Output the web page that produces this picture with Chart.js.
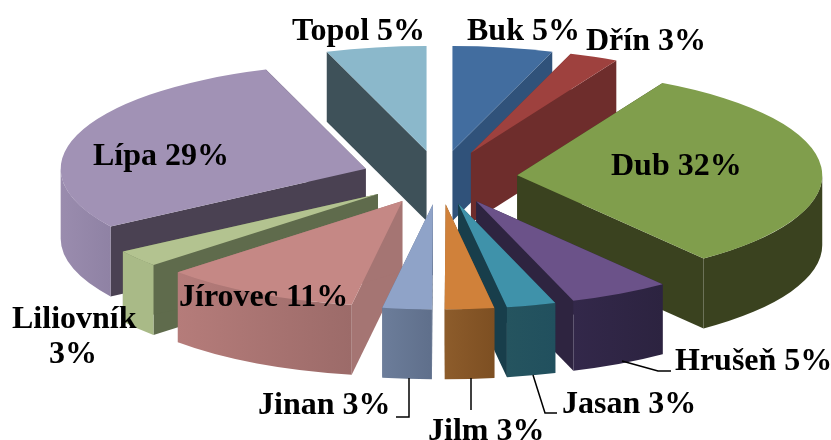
<!DOCTYPE html>
<html lang="cs">
<head>
<meta charset="utf-8">
<title>Dřeviny</title>
<script src="https://cdn.jsdelivr.net/npm/chart.js@4"></script>
<style>
  html, body { margin: 0; padding: 0; background: #fff; }
  canvas { display: block; }
</style>
</head>
<body>
<canvas id="graf" width="831" height="440"></canvas>
<script>
// data z obrázku (podíly odhadnuté z velikosti výsečí, popisky je zaokrouhlují)
const drevina = ["Buk", "Dřín", "Dub", "Hrušeň", "Jasan", "Jilm", "Jinan", "Jírovec", "Liliovník", "Lípa", "Topol"];
const procenta = [5.3, 2.6, 31.6, 5.3, 2.6, 2.6, 2.6, 10.5, 2.6, 28.9, 5.3];

// barvy: vrch, bok radiální, obvod (levý a pravý konec přechodu)
const barvaVrch = ["#426d9f", "#9e413e", "#809e4c", "#6b5289", "#3f92aa", "#d0813a", "#8fa3c8", "#c58885", "#b3c390", "#a192b5", "#8bb8cb"];
const barvaBok = ["#30527a", "#6e2d2c", "#3a421f", "#2e2440", "#183e4b", "#7d4f22", "#5f6f8b", "#a57573", "#5f6b4c", "#4a4152", "#3e5159"];
const barvaObvodL = ["#30527a", "#6e2d2c", "#3a421f", "#33284a", "#25545f", "#8d5c2b", "#6c7d9a", "#b57c7a", "#a9ba87", "#9a8cae", "#3e5159"];
const barvaObvodP = ["#30527a", "#6e2d2c", "#3a421f", "#2c2340", "#21505e", "#7d4f22", "#5f6f8b", "#9c6b69", "#a9ba87", "#8f82a4", "#3e5159"];

// popisky: x, y účaří
const popisky = [
  [467, 40], [586, 50], [611, 175], [675, 370], [562, 413], [428, 440],
  [258, 414], [179, 306], [12, 328], [93, 165], [292, 40]
];
// vodicí čáry k popiskům
const vodici = [
  [[622, 361], [658, 371], [671, 371]],
  [[533, 375], [545, 413], [557, 413]],
  [[471, 378], [471, 410]],
  [[409, 378], [409, 417], [396, 417]]
];

// parametry 3D pohledu (v pixelech obrázku)
const stred = { x: 439.5, y: 177.5 };
const poloosaX = 305, poloosaY = 105;
const vysun = 78, hloubka = 70;

const pie3d = {
  id: "pie3d",
  beforeDatasetsDraw(chart) {
    const ctx = chart.ctx;
    const oblouky = chart.getDatasetMeta(0).data;
    const poradi = oblouky.map((o, i) => i).sort((a, b) => {
      const sa = Math.sin((oblouky[a].startAngle + oblouky[a].endAngle) / 2);
      const sb = Math.sin((oblouky[b].startAngle + oblouky[b].endAngle) / 2);
      return sa - sb;
    });

    poradi.forEach((i) => {
      const o = oblouky[i];
      const R = o.outerRadius;
      const sx = poloosaX / R, sy = poloosaY / R;
      const h = hloubka / sy;
      const pul = (o.startAngle + o.endAngle) / 2;
      const v = vysun / sx;

      ctx.save();
      ctx.translate(stred.x, stred.y);
      ctx.scale(sx, sy);
      ctx.translate(Math.cos(pul) * v, Math.sin(pul) * v);
      ctx.translate(-o.x, -o.y);

      // radiální boky
      ctx.fillStyle = barvaBok[i];
      [o.startAngle, o.endAngle].forEach((a) => {
        const kx = o.x + Math.cos(a) * R, ky = o.y + Math.sin(a) * R;
        ctx.beginPath();
        ctx.moveTo(o.x, o.y);
        ctx.lineTo(kx, ky);
        ctx.lineTo(kx, ky + h);
        ctx.lineTo(o.x, o.y + h);
        ctx.closePath();
        ctx.fill();
      });

      // obvod, jen přední polovina
      const a1 = Math.max(o.startAngle, 0);
      const a2 = Math.min(o.endAngle, Math.PI);
      if (a2 > a1) {
        const g = ctx.createLinearGradient(o.x + Math.cos(a2) * R, 0, o.x + Math.cos(a1) * R, 0);
        g.addColorStop(0, barvaObvodL[i]);
        g.addColorStop(1, barvaObvodP[i]);
        ctx.fillStyle = g;
        ctx.beginPath();
        ctx.arc(o.x, o.y, R, a1, a2);
        ctx.lineTo(o.x + Math.cos(a2) * R, o.y + Math.sin(a2) * R + h);
        ctx.arc(o.x, o.y + h, R, a2, a1, true);
        ctx.closePath();
        ctx.fill();
      }

      // vrch nakreslí sám Chart.js
      o.draw(ctx, chart.chartArea);
      ctx.restore();
    });
    return false;
  },
  afterDraw(chart) {
    const ctx = chart.ctx;
    ctx.save();
    ctx.strokeStyle = "#000";
    ctx.lineWidth = 1.5;
    vodici.forEach((cara) => {
      ctx.beginPath();
      cara.forEach((p, i) => (i ? ctx.lineTo(p[0], p[1]) : ctx.moveTo(p[0], p[1])));
      ctx.stroke();
    });

    ctx.fillStyle = "#000";
    ctx.font = "bold 32px 'Liberation Serif'";
    ctx.textBaseline = "alphabetic";
    drevina.forEach((jmeno, i) => {
      const [x, y] = popisky[i];
      const text = Math.round(procenta[i]) + "%";
      if (jmeno === "Liliovník") {
        // zalomený popisek
        ctx.fillText(jmeno, x, y);
        ctx.fillText(text, x + 37, y + 35);
      } else {
        ctx.fillText(jmeno + " " + text, x, y);
      }
    });
    ctx.restore();
  }
};

new Chart(document.getElementById("graf"), {
  type: "pie",
  data: {
    labels: drevina,
    datasets: [{ data: procenta, backgroundColor: barvaVrch, borderWidth: 0 }]
  },
  options: {
    responsive: false,
    animation: false,
    devicePixelRatio: 1,
    layout: { padding: 0 },
    plugins: { legend: { display: false }, tooltip: { enabled: false } }
  },
  plugins: [pie3d]
});
</script>
</body>
</html>
